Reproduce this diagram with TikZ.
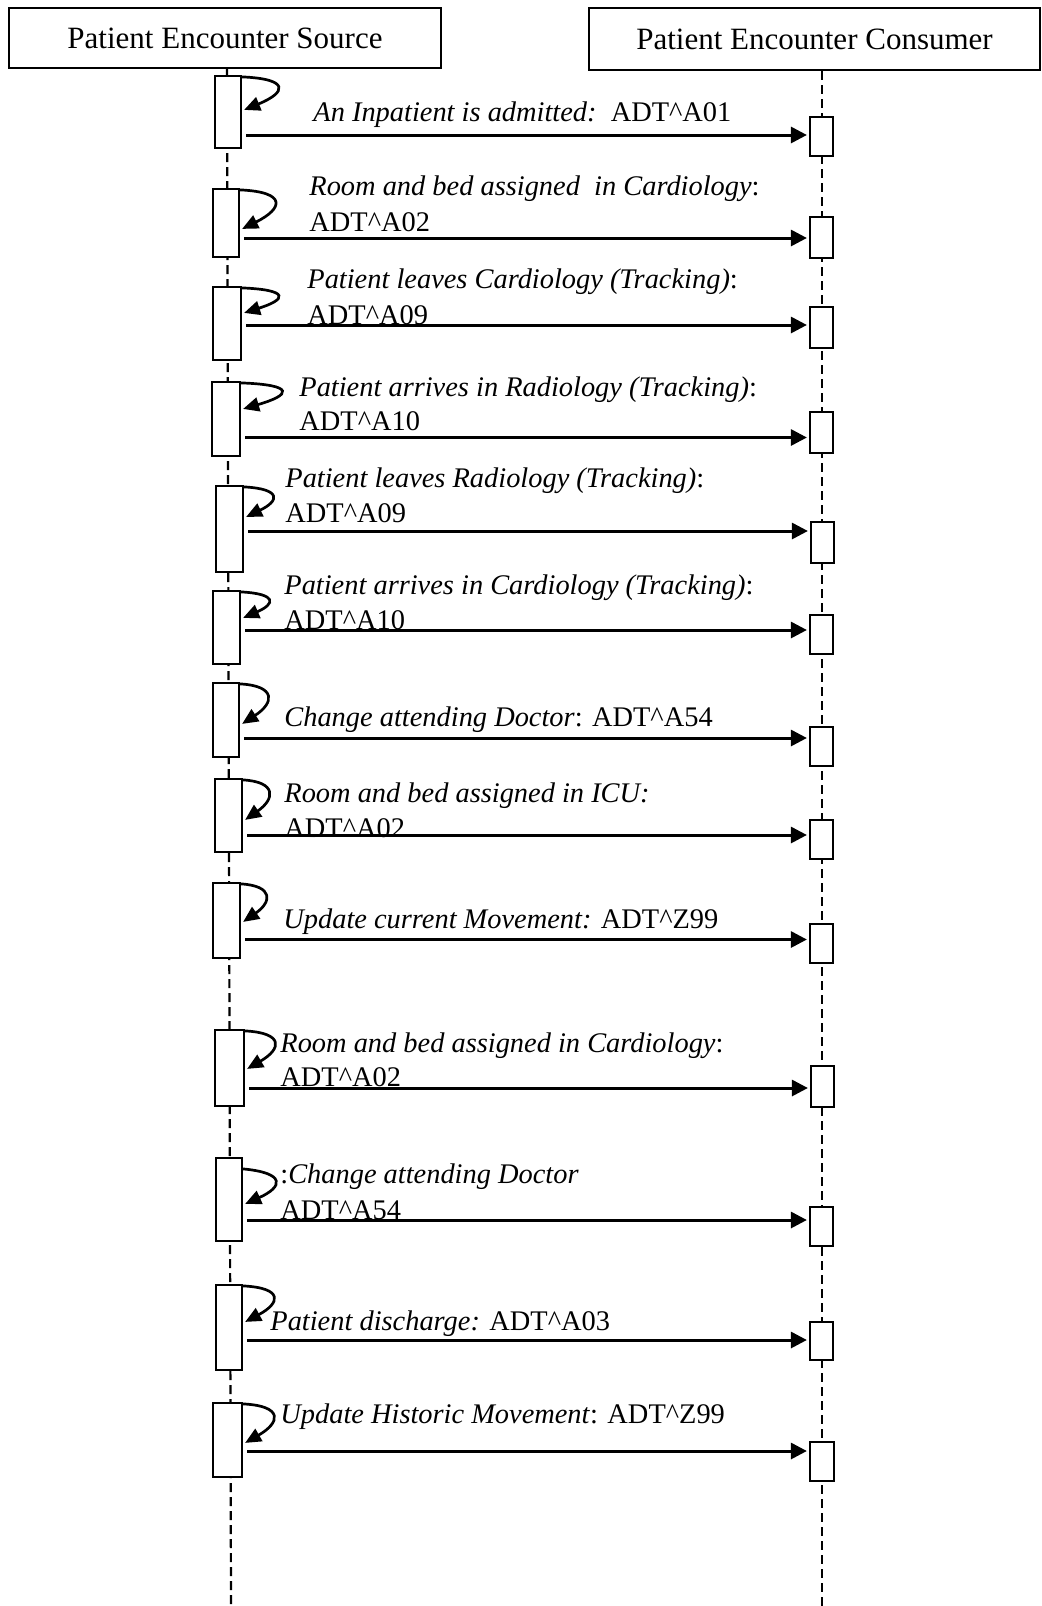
\documentclass[tikz,border=0pt]{standalone}
\usepackage{fontspec}
\setmainfont{Liberation Serif}
\usetikzlibrary{arrows.meta,fit,calc}
\newcommand\mylbl{\fontsize{14.2}{17}\selectfont}
\newcommand\myhdr{\fontsize{15.5}{18}\selectfont}
\newcommand\adt[1]{ADT\textasciicircum #1}
\newcommand\selfloop[3]{\draw[selfarrow] ($(#1.north east)+(0,2)$) .. controls +({#3*1.3},2) and +({#3*1.15},{-#2*0.5}) .. ($(#1.north east)+(2,#2)$);}
\tikzset{
  hdr/.style={draw, line width=1.2pt, inner sep=0pt, font=\myhdr},
  act/.style={draw, fill=white, line width=1.1pt, inner sep=0pt},
  lbl/.style={anchor=base west, inner sep=0pt, font=\mylbl},
  msg/.style={line width=1.5pt, -{Triangle[length=8pt,width=8pt]}},
  selfarrow/.style={line width=1.35pt, -{Triangle[length=8pt,width=7pt]}},
  life/.style={dash pattern=on 4.5pt off 2.5pt, line width=1.1pt}
}
\begin{document}
\begin{tikzpicture}[x=0.5pt,y=-0.5pt]
\useasboundingbox (0,0) rectangle (1042,1606);
% headers
\node[hdr, minimum width=216pt, minimum height=30pt] (src) at (225,38) {Patient Encounter Source};
\node[hdr, minimum width=225.5pt, minimum height=31pt] (con) at (814.5,39) {Patient Encounter Consumer};
\coordinate (srcbot) at (231,1606);
\coordinate (conbot) at (822,1606);
\draw[life] ([xshift=1pt]src.south) -- (srcbot);
\draw[life] ([xshift=3.75pt]con.south) -- (conbot);

% row 1
\node[act, fit={(215,76)(241,148)}] (s1) {};
\node[act, fit={(810,117)(833,156)}] (c1) {};
\coordinate (m1) at (0,135);
\draw[msg] ([xshift=2pt]s1.east |- m1) -- ([xshift=-1pt]c1.west |- m1);
\selfloop{s1}{35}{37}
\node[lbl] (l1) at (313,121.7) {\textit{An Inpatient is admitted:}\ \ \adt{A01}};

% row 2
\node[act, fit={(213,189)(239,257)}] (s2) {};
\node[act, fit={(810,217)(833,258)}] (c2) {};
\coordinate (m2) at (0,238);
\draw[msg] ([xshift=2pt]s2.east |- m2) -- ([xshift=-1pt]c2.west |- m2);
\selfloop{s2}{41}{36}
\node[lbl] (l2a) at (309,195) {\textit{Room and bed assigned\ \ in Cardiology}:};
\node[lbl] (l2b) at (309,231) {\adt{A02}};

% row 3
\node[act, fit={(213,287)(241,360)}] (s3) {};
\node[act, fit={(810,307)(833,348)}] (c3) {};
\coordinate (m3) at (0,325);
\draw[msg] ([xshift=2pt]s3.east |- m3) -- ([xshift=-1pt]c3.west |- m3);
\selfloop{s3}{27}{37}
\node[lbl] (l3a) at (307,288) {\textit{Patient leaves Cardiology (Tracking)}:};
\node[lbl] (l3b) at (307,324) {\adt{A09}};

% row 4
\node[act, fit={(212,382)(240,456)}] (s4) {};
\node[act, fit={(810,412)(833,453)}] (c4) {};
\coordinate (m4) at (0,437.5);
\draw[msg] ([xshift=2pt]s4.east |- m4) -- ([xshift=-1pt]c4.west |- m4);
\selfloop{s4}{28}{42}
\node[lbl] (l4a) at (299,396) {\textit{Patient arrives in Radiology (Tracking)}:};
\node[lbl] (l4b) at (299,430) {\adt{A10}};

% row 5
\node[act, fit={(216,486)(243,572)}] (s5) {};
\node[act, fit={(811,522)(834,563)}] (c5) {};
\coordinate (m5) at (0,531);
\draw[msg] ([xshift=2pt]s5.east |- m5) -- ([xshift=-1pt]c5.west |- m5);
\selfloop{s5}{32}{29}
\node[lbl] (l5a) at (285,487.5) {\textit{Patient leaves Radiology (Tracking)}:};
\node[lbl] (l5b) at (285,522) {\adt{A09}};

% row 6
\node[act, fit={(213,591)(240,664)}] (s6) {};
\node[act, fit={(810,615)(833,654)}] (c6) {};
\coordinate (m6) at (0,630);
\draw[msg] ([xshift=2pt]s6.east |- m6) -- ([xshift=-1pt]c6.west |- m6);
\selfloop{s6}{28}{28}
\node[lbl] (l6a) at (284,594) {\textit{Patient arrives in Cardiology (Tracking)}:};
\node[lbl] (l6b) at (284,629) {\adt{A10}};

% row 7
\node[act, fit={(213,683)(239,757)}] (s7) {};
\node[act, fit={(810,727)(833,766)}] (c7) {};
\coordinate (m7) at (0,738);
\draw[msg] ([xshift=2pt]s7.east |- m7) -- ([xshift=-1pt]c7.west |- m7);
\selfloop{s7}{42}{28}
\node[lbl] (l7) at (284,726) {\textit{Change attending Doctor}: \adt{A54}};

% row 8
\node[act, fit={(215,779)(242,852)}] (s8) {};
\node[act, fit={(810,820)(833,859)}] (c8) {};
\coordinate (m8) at (0,835);
\draw[msg] ([xshift=2pt]s8.east |- m8) -- ([xshift=-1pt]c8.west |- m8);
\selfloop{s8}{42}{26}
\node[lbl] (l8a) at (284,802) {\textit{Room and bed assigned in ICU:}};
\node[lbl] (l8b) at (284,837) {\adt{A02}};

% row 9
\node[act, fit={(213,883)(240,958)}] (s9) {};
\node[act, fit={(810,924)(833,963)}] (c9) {};
\coordinate (m9) at (0,939.5);
\draw[msg] ([xshift=2pt]s9.east |- m9) -- ([xshift=-1pt]c9.west |- m9);
\selfloop{s9}{40}{25}
\node[lbl] (l9) at (283,928) {\textit{Update current Movement:} \adt{Z99}};

% row 10
\node[act, fit={(215,1030)(244,1106)}] (s10) {};
\node[act, fit={(811,1066)(834,1107)}] (c10) {};
\coordinate (m10) at (0,1088);
\draw[msg] ([xshift=2pt]s10.east |- m10) -- ([xshift=-1pt]c10.west |- m10);
\selfloop{s10}{40}{30}
\node[lbl] (l10a) at (280,1052) {\textit{Room and bed assigned in Cardiology}:};
\node[lbl] (l10b) at (280,1086) {\adt{A02}};

% row 11
\node[act, fit={(216,1158)(242,1241)}] (s11) {};
\node[act, fit={(810,1207)(833,1246)}] (c11) {};
\coordinate (m11) at (0,1220);
\draw[msg] ([xshift=2pt]s11.east |- m11) -- ([xshift=-1pt]c11.west |- m11);
\draw[selfarrow] ($(s11.north east)+(0,12)$) .. controls +(43,4) and +(38,-17) .. ($(s11.north east)+(2,47)$);
\node[lbl] (l11a) at (280,1183) {:\textit{Change attending Doctor}};
\node[lbl] (l11b) at (280,1219) {\adt{A54}};

% row 12
\node[act, fit={(216,1285)(242,1370)}] (s12) {};
\node[act, fit={(810,1322)(833,1360)}] (c12) {};
\coordinate (m12) at (0,1340);
\draw[msg] ([xshift=2pt]s12.east |- m12) -- ([xshift=-1pt]c12.west |- m12);
\selfloop{s12}{38}{31}
\node[lbl] (l12) at (270,1330) {\textit{Patient discharge:} \adt{A03}};

% row 13
\node[act, fit={(213,1403)(242,1477)}] (s13) {};
\node[act, fit={(810,1442)(834,1481)}] (c13) {};
\coordinate (m13) at (0,1451);
\draw[msg] ([xshift=2pt]s13.east |- m13) -- ([xshift=-1pt]c13.west |- m13);
\selfloop{s13}{41}{31}
\node[lbl] (l13) at (280,1423) {\textit{Update Historic Movement}: \adt{Z99}};
\end{tikzpicture}
\end{document}
